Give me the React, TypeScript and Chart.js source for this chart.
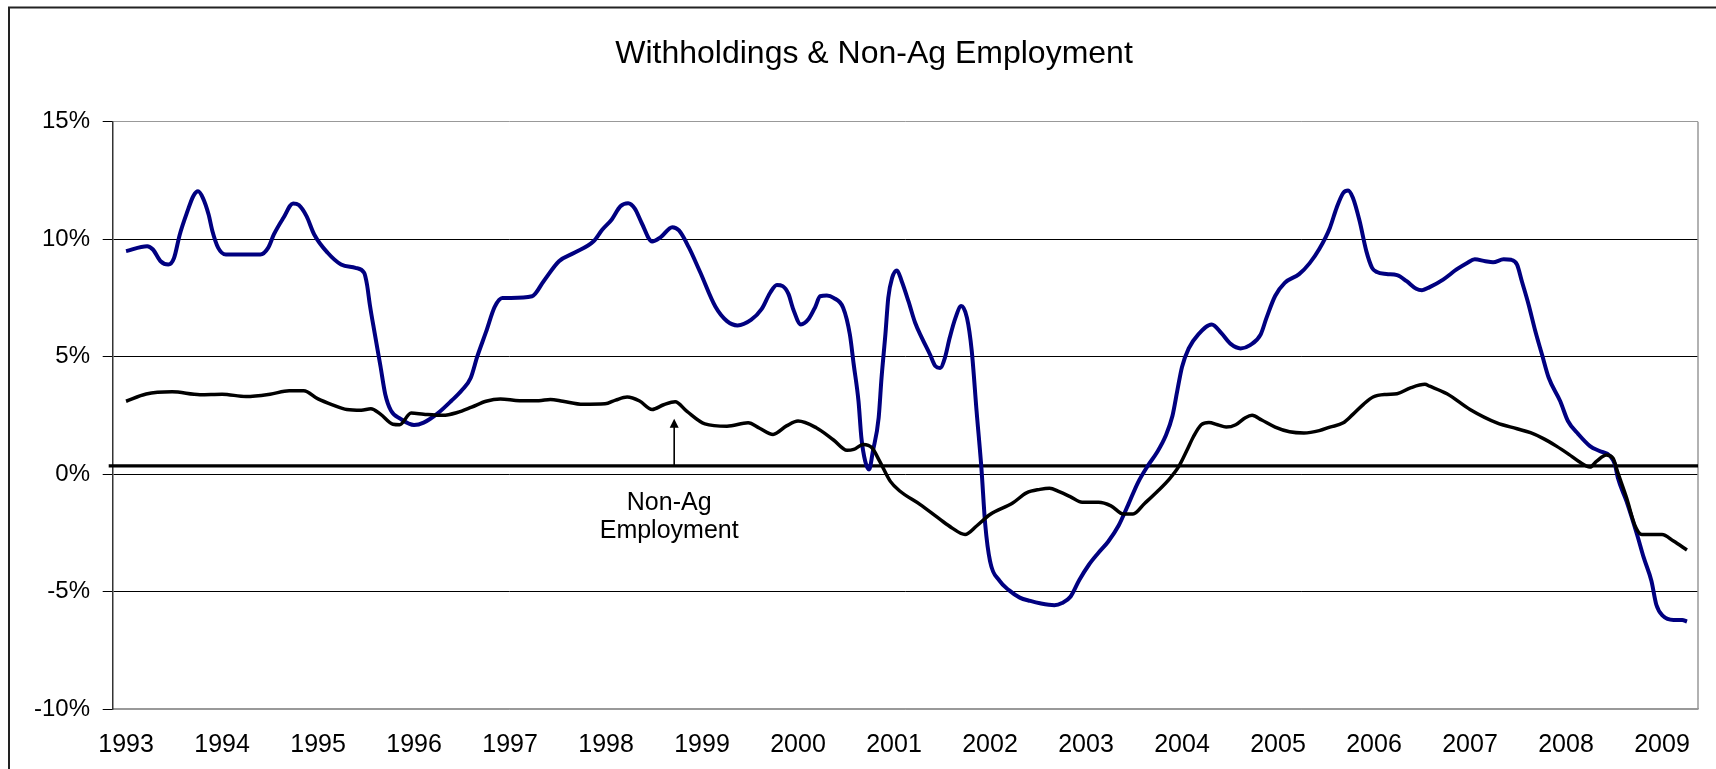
import React, { useEffect, useRef } from "react";
import { Chart, registerables } from "chart.js";

Chart.register(...registerables);

const TITLE = "Withholdings & Non-Ag Employment";
const FONT = "'Liberation Sans', Arial, Helvetica, sans-serif";

const yearTicks = [1993, 1994, 1995, 1996, 1997, 1998, 1999, 2000, 2001, 2002, 2003, 2004, 2005, 2006, 2007, 2008, 2009];

// Withholdings (blue) – year (decimal) / percent
const withYears = [
  1993.0, 1993.22, 1993.28, 1993.36, 1993.44, 1993.5, 1993.56, 1993.64, 1993.7, 1993.75, 1993.8, 1993.86, 1993.9, 1993.96,
  1994.04, 1994.4, 1994.48, 1994.54, 1994.64, 1994.74, 1994.8, 1994.88, 1994.96, 1995.1, 1995.24, 1995.39, 1995.48,
  1995.51, 1995.54, 1995.59, 1995.65, 1995.7, 1995.76, 1995.86, 1996.0, 1996.1, 1996.24, 1996.39, 1996.5, 1996.59,
  1996.66, 1996.75, 1996.84, 1996.92, 1997.01, 1997.23, 1997.35, 1997.51, 1997.67, 1997.87, 1997.96, 1998.06, 1998.15,
  1998.23, 1998.3, 1998.37, 1998.48, 1998.57, 1998.69, 1998.76, 1998.86, 1998.98, 1999.14, 1999.26, 1999.37, 1999.51,
  1999.62, 1999.71, 1999.78, 1999.84, 1999.9, 1999.95, 2000.03, 2000.11, 2000.18, 2000.23, 2000.3, 2000.37, 2000.47,
  2000.54, 2000.58, 2000.63, 2000.66, 2000.7, 2000.74, 2000.78, 2000.84, 2000.87, 2000.91, 2000.94, 2000.98, 2001.03,
  2001.08, 2001.15, 2001.22, 2001.29, 2001.375, 2001.43, 2001.48, 2001.53, 2001.58, 2001.64, 2001.7, 2001.76, 2001.81,
  2001.86, 2001.91, 2001.95, 2002.0, 2002.1, 2002.2, 2002.31, 2002.42, 2002.52, 2002.67, 2002.75, 2002.84, 2002.93,
  2003.03, 2003.13, 2003.23, 2003.34, 2003.44, 2003.54, 2003.64, 2003.74, 2003.83, 2003.9, 2003.95, 2004.0, 2004.07,
  2004.17, 2004.31, 2004.41, 2004.51, 2004.61, 2004.71, 2004.82, 2004.88, 2004.97, 2005.07, 2005.22, 2005.33, 2005.43,
  2005.54, 2005.61, 2005.68, 2005.73, 2005.78, 2005.85, 2005.92, 2005.98, 2006.03, 2006.13, 2006.24, 2006.34, 2006.44,
  2006.5, 2006.58, 2006.72, 2006.86, 2006.97, 2007.05, 2007.16, 2007.24, 2007.35, 2007.43, 2007.49, 2007.54, 2007.61,
  2007.68, 2007.75, 2007.82, 2007.94, 2008.02, 2008.13, 2008.25, 2008.35, 2008.46, 2008.51, 2008.54, 2008.63, 2008.74,
  2008.81, 2008.89, 2008.94, 2009.01, 2009.12, 2009.21, 2009.26,
];
const withValues = [
  9.49, 9.7, 9.56, 9.06, 8.92, 9.2, 10.2, 11.19, 11.83, 12.04, 11.76, 11.05, 10.34, 9.63,
  9.35, 9.35, 9.63, 10.2, 10.91, 11.52, 11.45, 10.98, 10.2, 9.42, 8.92, 8.78, 8.57,
  8.07, 7.2, 6.0, 4.6, 3.4, 2.7, 2.35, 2.09, 2.19, 2.56, 3.12, 3.58, 4.09,
  5.02, 6.05, 7.12, 7.5, 7.5, 7.57, 8.21, 9.06, 9.42, 9.91, 10.4, 10.84, 11.4,
  11.53, 11.3, 10.7, 9.9, 10.09, 10.51, 10.37, 9.67, 8.6, 7.12, 6.51, 6.33, 6.56,
  7.02, 7.72, 8.05, 8.0, 7.67, 7.02, 6.37, 6.6, 7.12, 7.57, 7.6, 7.5, 7.08,
  5.94, 4.67, 3.1, 1.55, 0.55, 0.2, 0.98, 2.4, 4.1, 5.94, 7.5, 8.35, 8.67,
  8.21, 7.36, 6.44, 5.8, 5.09, 4.6, 4.52, 4.95, 5.8, 6.65, 7.15, 6.65, 5.23,
  2.68, 0.27, -2.14, -3.7, -4.55, -4.95, -5.26, -5.4, -5.5, -5.58, -5.49, -5.21, -4.51,
  -3.86, -3.35, -2.88, -2.19, -1.3, -0.37, 0.33, 0.93, 1.63, 2.47, 3.53, 4.56, 5.35,
  5.95, 6.37, 6.0, 5.53, 5.35, 5.49, 5.95, 6.65, 7.58, 8.14, 8.51, 8.98, 9.58,
  10.48, 11.33, 11.97, 12.07, 11.76, 10.77, 9.49, 8.78, 8.6, 8.52, 8.47, 8.21, 7.89,
  7.83, 7.96, 8.28, 8.71, 8.99, 9.14, 9.06, 9.02, 9.14, 9.12, 8.92, 8.21, 7.22,
  6.09, 5.09, 4.1, 3.1, 2.26, 1.69, 1.19, 0.98, 0.77, 0.41, -0.16, -1.15, -2.57,
  -3.56, -4.55, -5.55, -6.04, -6.21, -6.21, -6.28,
];

// Non-Ag Employment (black) – year (decimal) / percent
const empYears = [
  1993.0, 1993.21, 1993.48, 1993.77, 1994.0, 1994.25, 1994.5, 1994.7, 1994.85, 1995.0, 1995.15, 1995.3, 1995.45,
  1995.55, 1995.65, 1995.78, 1995.85, 1995.97, 1996.1, 1996.3, 1996.45, 1996.6, 1996.75, 1996.9, 1997.1, 1997.3,
  1997.42, 1997.55, 1997.76, 1997.99, 1998.1, 1998.22, 1998.35, 1998.48, 1998.6, 1998.72, 1998.84, 1999.03, 1999.26,
  1999.48, 1999.6, 1999.74, 1999.88, 2000.0, 2000.19, 2000.37, 2000.51, 2000.58, 2000.68, 2000.77, 2000.85, 2000.96,
  2001.06, 2001.27, 2001.48, 2001.6, 2001.74, 2001.86, 2002.0, 2002.24, 2002.38, 2002.52, 2002.62, 2002.72, 2002.83,
  2002.96, 2003.13, 2003.26, 2003.39, 2003.49, 2003.61, 2003.74, 2003.87, 2003.97, 2004.05, 2004.12, 2004.2, 2004.28,
  2004.37, 2004.46, 2004.56, 2004.66, 2004.73, 2004.83, 2004.97, 2005.12, 2005.27, 2005.43, 2005.54, 2005.68, 2005.78,
  2005.89, 2005.99, 2006.13, 2006.24, 2006.38, 2006.53, 2006.58, 2006.76, 2007.0, 2007.28, 2007.49, 2007.63, 2007.76,
  2007.9, 2008.03, 2008.13, 2008.25, 2008.32, 2008.42, 2008.49, 2008.54, 2008.63, 2008.72, 2008.79, 2009.0, 2009.12,
  2009.26,
];
const empValues = [
  3.1, 3.41, 3.5, 3.38, 3.4, 3.3, 3.4, 3.55, 3.55, 3.2, 2.95, 2.75, 2.72,
  2.78, 2.55, 2.12, 2.1, 2.6, 2.55, 2.5, 2.62, 2.85, 3.1, 3.2, 3.12, 3.12,
  3.18, 3.1, 2.97, 2.99, 3.15, 3.28, 3.11, 2.75, 2.95, 3.08, 2.68, 2.14, 2.04,
  2.18, 1.95, 1.69, 2.05, 2.26, 1.97, 1.45, 1.01, 1.05, 1.26, 1.12, 0.55, -0.3,
  -0.72, -1.29, -1.93, -2.28, -2.57, -2.21, -1.72, -1.22, -0.8, -0.65, -0.6, -0.75, -0.95,
  -1.2, -1.2, -1.35, -1.7, -1.7, -1.25, -0.75, -0.2, 0.35, 1.0, 1.6, 2.1, 2.2,
  2.1, 2.0, 2.1, 2.4, 2.5, 2.3, 2.0, 1.8, 1.75, 1.85, 2.0, 2.18, 2.54,
  2.97, 3.28, 3.39, 3.42, 3.67, 3.82, 3.74, 3.42, 2.75, 2.18, 1.93, 1.76, 1.52,
  1.19, 0.84, 0.55, 0.3, 0.55, 0.81, 0.67, 0.06, -1.0, -2.21, -2.57, -2.57, -2.85,
  -3.23,
];

// Drawn reference line and the annotation arrow
const referenceLevel = 0.35;
const arrowYear = 1998.71;
const arrowTipValue = 2.35;
const annotationLines = ["Non-Ag", "Employment"];

const X_MIN = 1992.861;
const X_MAX = 2009.375;

const extras = {
  id: "extras",
  beforeDraw(chart: any) {
    const { ctx, width, height } = chart;
    ctx.save();
    ctx.strokeStyle = "#222";
    ctx.lineWidth = 2;
    ctx.beginPath();
    ctx.moveTo(9, height + 5);
    ctx.lineTo(9, 7.5);
    ctx.lineTo(width + 5, 7.5);
    ctx.stroke();
    ctx.restore();
  },
  beforeDatasetsDraw(chart: any) {
    const { ctx, chartArea: a, scales } = chart;
    const y = scales.y;
    ctx.save();
    ctx.strokeStyle = "#999";
    ctx.lineWidth = 1.5;
    ctx.beginPath();
    ctx.moveTo(a.right, a.top);
    ctx.lineTo(a.right, a.bottom);
    ctx.stroke();
    const yy = y.getPixelForValue(referenceLevel);
    ctx.strokeStyle = "#000";
    ctx.lineWidth = 3.4;
    ctx.beginPath();
    ctx.moveTo(a.left - 4, yy);
    ctx.lineTo(a.right, yy);
    ctx.stroke();
    ctx.restore();
  },
  afterDatasetsDraw(chart: any) {
    const { ctx, scales } = chart;
    const x = scales.x;
    const y = scales.y;
    const ax = x.getPixelForValue(arrowYear);
    const y0 = y.getPixelForValue(referenceLevel);
    const y1 = y.getPixelForValue(arrowTipValue);
    ctx.save();
    ctx.strokeStyle = "#000";
    ctx.fillStyle = "#000";
    ctx.lineWidth = 1.6;
    ctx.beginPath();
    ctx.moveTo(ax, y0);
    ctx.lineTo(ax, y1 + 6);
    ctx.stroke();
    ctx.beginPath();
    ctx.moveTo(ax, y1);
    ctx.lineTo(ax - 4.5, y1 + 9);
    ctx.lineTo(ax + 4.5, y1 + 9);
    ctx.closePath();
    ctx.fill();
    ctx.font = `25px ${FONT}`;
    ctx.textAlign = "center";
    ctx.textBaseline = "middle";
    ctx.fillText(annotationLines[0], ax - 5, y0 + 37);
    ctx.fillText(annotationLines[1], ax - 5, y0 + 65);
    ctx.restore();
  },
  afterDraw(chart: any) {
    const { ctx } = chart;
    ctx.save();
    ctx.fillStyle = "#000";
    ctx.font = `32px ${FONT}`;
    ctx.textAlign = "center";
    ctx.textBaseline = "alphabetic";
    ctx.fillText(TITLE, 874, 62.5);
    ctx.restore();
  },
};

export default function App() {
  const ref = useRef<HTMLCanvasElement | null>(null);

  useEffect(() => {
    const canvas = ref.current;
    if (!canvas) return;
    Chart.defaults.font.family = FONT;
    const chart = new Chart(canvas, {
      type: "line",
      data: {
        datasets: [
          {
            label: "Non-Ag Employment",
            data: empYears.map((v, i) => ({ x: v, y: empValues[i] })),
            borderColor: "#000000",
            borderWidth: 3.5,
            pointRadius: 0,
            fill: false,
            cubicInterpolationMode: "monotone",
          },
          {
            label: "Withholdings",
            data: withYears.map((v, i) => ({ x: v, y: withValues[i] })),
            borderColor: "#000080",
            borderWidth: 4,
            pointRadius: 0,
            fill: false,
            cubicInterpolationMode: "monotone",
          },
        ],
      },
      options: {
        animation: false,
        responsive: false,
        devicePixelRatio: 1,
        layout: { padding: { left: 0, right: 18, top: 121.7, bottom: 0 } },
        plugins: {
          legend: { display: false },
          tooltip: { enabled: false },
          title: { display: false },
        },
        scales: {
          x: {
            type: "linear",
            min: X_MIN,
            max: X_MAX,
            afterBuildTicks: (s: any) => {
              s.ticks = yearTicks.map((v) => ({ value: v }));
            },
            afterFit: (s: any) => {
              s.height = 60;
            },
            ticks: {
              autoSkip: false,
              maxRotation: 0,
              minRotation: 0,
              padding: 21.2,
              color: "#000",
              font: { family: FONT, size: 25 },
              callback: (v: any) => String(v),
            },
            grid: { display: false, drawTicks: false },
            border: { display: true, color: "#999", width: 1.5 },
          },
          y: {
            type: "linear",
            min: -10,
            max: 15,
            afterFit: (s: any) => {
              s.width = 112.7;
            },
            ticks: {
              stepSize: 5,
              padding: 12.7,
              color: "#000",
              font: { family: FONT, size: 24 },
              callback: (v: any) => `${v}%`,
            },
            grid: {
              color: (c: any) => (c.tick && (c.tick.value === 15 || c.tick.value === -10) ? "#999" : "#000"),
              lineWidth: 1,
              drawTicks: true,
              tickLength: 10,
              tickColor: "#000",
            },
            border: { display: true, color: "#333", width: 1.5 },
          },
        },
      },
      plugins: [extras],
    });
    return () => chart.destroy();
  }, []);

  return (
    <div style={{ position: "fixed", left: 0, top: 0, width: 1716, height: 769, background: "#fff", overflow: "hidden" }}>
      <canvas ref={ref} width={1716} height={769} style={{ width: 1716, height: 769, display: "block" }} />
    </div>
  );
}
